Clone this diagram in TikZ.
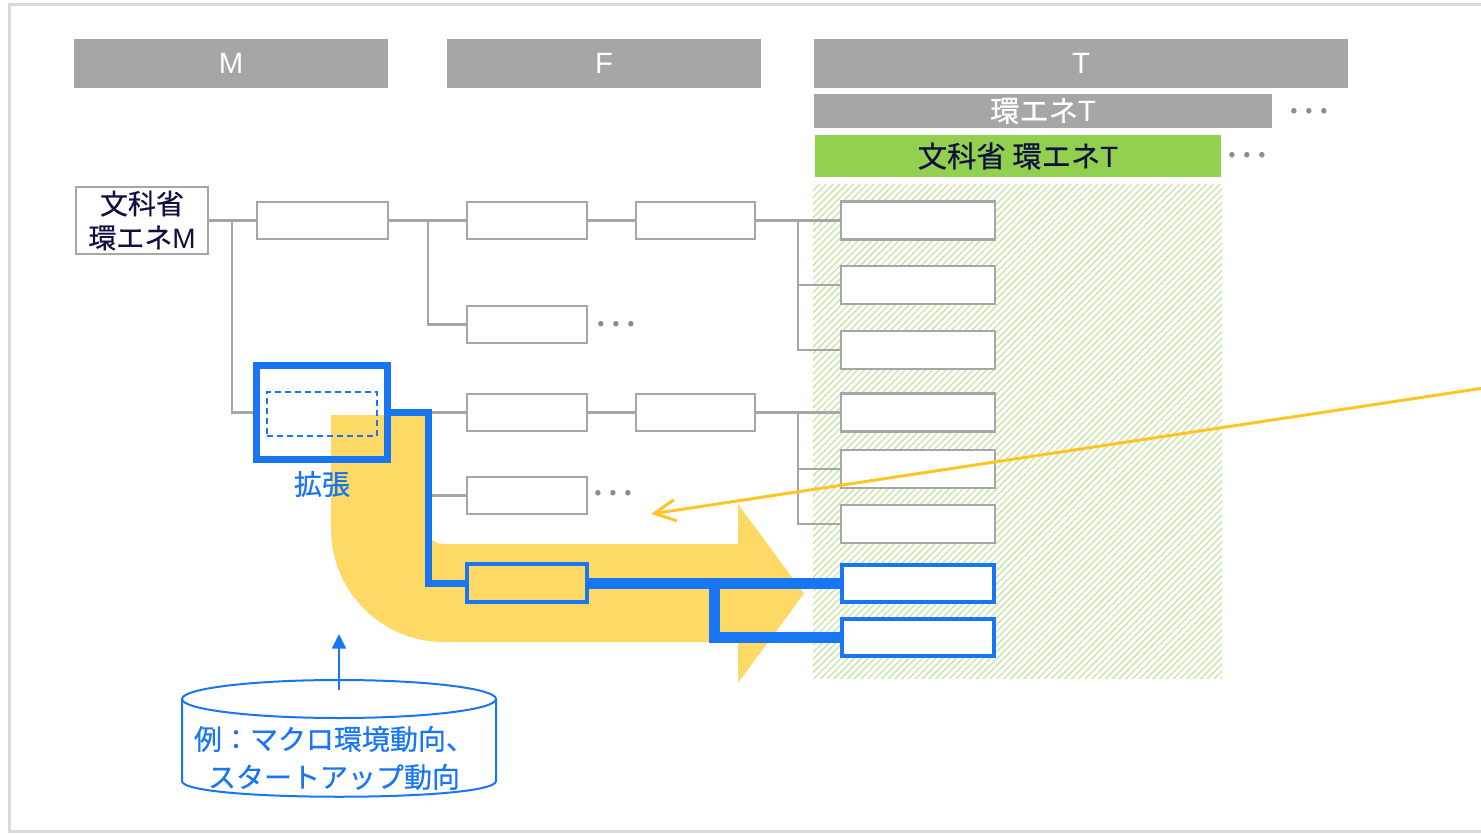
\documentclass[tikz,border=0pt]{standalone}
\usepackage{fontspec}
\setmainfont{Liberation Sans}
\newfontfamily\cjk[FakeBold=0.5]{Noto Sans CJK JP}
\newfontfamily\cjkdots{Noto Sans CJK JP}
\usetikzlibrary{patterns.meta,arrows.meta,backgrounds}
\definecolor{hdrgray}{RGB}{166,166,166}
\definecolor{lgray}{RGB}{166,166,166}
\definecolor{dotgray}{RGB}{140,140,140}
\definecolor{framec}{RGB}{217,217,217}
\definecolor{greenbar}{RGB}{146,208,80}
\definecolor{hatchc}{RGB}{198,228,164}
\definecolor{navy}{RGB}{16,16,64}
\definecolor{bblue}{RGB}{24,118,242}
\definecolor{yel}{RGB}{255,217,102}
\definecolor{yline}{RGB}{255,196,37}
\begin{document}
\begin{tikzpicture}[x=0.75pt,y=-0.75pt,
  hdr/.style={fill=hdrgray, text=white, inner sep=0pt, font=\fontsize{22}{26}\selectfont},
  gbox/.style={draw=lgray, fill=white, line width=2.2pt, inner sep=0pt},
  fbox/.style={gbox, minimum width=90pt, minimum height=27.75pt},
  gbbox/.style={gbox, minimum width=89.25pt, minimum height=27.75pt},
  tbox/.style={gbox, minimum width=115.5pt, minimum height=28.5pt},
  bbox/.style={draw=bblue, fill=white, line width=3pt, inner sep=0pt, minimum width=114pt, minimum height=27.75pt},
  gline/.style={draw=lgray, line width=1.9pt},
  bline/.style={draw=bblue, line width=5.25pt, line join=miter},
  bthick/.style={draw=bblue, line width=8.25pt, line join=miter},
  dots/.style={text=dotgray, inner sep=0pt, font=\cjkdots\fontsize{30}{32}\selectfont},
  jtext/.style={font=\cjk\fontsize{21}{25.5}\selectfont}
]
\useasboundingbox (0,0) rectangle (1481,834);

% frame
\draw[framec, line width=2.25pt] (9,5) rectangle (1530,831);

% headers
\node[hdr, minimum width=235.5pt, minimum height=36.75pt] (hM) at (231,63.5) {M};
\node[hdr, minimum width=235.5pt, minimum height=36.75pt] (hF) at (604,63.5) {F};
\node[hdr, minimum width=400.5pt, minimum height=36.75pt] (hT) at (1081,63.5) {T};
\node[hdr, minimum width=343.5pt, minimum height=25.5pt, font=\fontsize{22}{25}\selectfont] (hT2) at (1043,111) {{\cjk 環エネ}T};
\node[dots] (d1) at (1309,111) {…};
\node[fill=greenbar, text=navy, inner sep=0pt, minimum width=304.5pt, minimum height=31.5pt, font=\fontsize{22}{26}\selectfont] (gT) at (1018,156) {{\cjk 文科省 環エネ}T};
\node[dots] (d2) at (1247,155) {…};

% nodes
\node[gbox, minimum width=99pt, minimum height=50.25pt, text=navy, align=center, font=\fontsize{21}{25.5}\selectfont] (mbox) at (142,220.5) {{\cjk 文科省}\\{\cjk 環エネ}M};
\node[gbox, minimum width=98.25pt, minimum height=27.75pt] (b1) at (322.5,220.5) {};
\node[fbox] (f1) at (527,220.5) {};
\node[fbox] (f2) at (527,324.5) {};
\node[dots] (d3) at (616,324) {…};
\node[gbbox] (g1) at (695.5,220.5) {};

\node[draw=bblue, line width=5.25pt, minimum width=98.25pt, minimum height=70.5pt, inner sep=0pt] (ex) at (322,412.5) {};
\node[draw=bblue, dashed, dash pattern=on 4.5pt off 3pt, line width=1.5pt, minimum width=82.5pt, minimum height=33pt, inner sep=0pt] (exin) at (322,414) {};
\node[jtext, text=bblue] (lbl) at (322,484) {拡張};

\node[fbox] (f3) at (527,412.5) {};
\node[gbbox] (g3) at (695.5,412.5) {};
\node[fbox] (f4) at (527,495.5) {};
\node[dots] (d4) at (613,493) {…};
\node[draw=bblue, line width=3pt, minimum width=90pt, minimum height=28.5pt, inner sep=0pt] (f5) at (527,583) {};

\node[tbox] (t1) at (918,220.5) {};
\node[tbox] (t2) at (918,285) {};
\node[tbox] (t3) at (918,350) {};
\node[tbox] (t4) at (918,412.5) {};
\node[tbox] (t5) at (918,469) {};
\node[tbox] (t6) at (918,524) {};
\node[bbox] (t7) at (918,583) {};
\node[bbox] (t8) at (918,637.5) {};

\coordinate (jm) at (232,220.5);
\coordinate (jb) at (428,220.5);
\coordinate (jg) at (798,220.5);
\coordinate (je) at (428,412.5);
\coordinate (jh) at (798,412.5);
\coordinate (jf) at (714,583);

\begin{pgfonlayer}{background}
  \fill[pattern={Lines[angle=45,distance=3.6pt,line width=1pt]}, pattern color=hatchc] (813,185) rectangle (1222,678);
  \fill[yel] (331,415) -- (428,415) -- (428,529) .. controls (428,537.3) and (434.7,544) .. (443,544)
     -- (738,544) -- (738,504) -- (804,593.5) -- (738,683) -- (738,642) -- (444,642)
     .. controls (381.6,642) and (331,591.4) .. (331,529) -- cycle;
  \draw[gline] (mbox.east) -- (b1.west);
  \draw[gline] (jm) |- (ex.west);
  \draw[gline] (b1.east) -- (f1.west);
  \draw[gline] (jb) |- (f2.west);
  \draw[gline] (f1.east) -- (g1.west);
  \draw[gline] (g1.east) -- (t1.west);
  \draw[gline] (jg) |- (t2.west);
  \draw[gline] (jg) |- (t3.west);
  \draw[gline] (ex.east) -- (f3.west);
  \draw[gline] (je) |- (f4.west);
  \draw[gline] (f3.east) -- (g3.west);
  \draw[gline] (g3.east) -- (t4.west);
  \draw[gline] (jh) |- (t5.west);
  \draw[gline] (jh) |- (t6.west);
  \draw[bline] (ex.east) -- (je) |- (f5.west);
  \draw[bthick] (f5.east) -- (t7.west);
  \draw[bthick] (jf) |- (t8.west);
\end{pgfonlayer}

% cylinder
\draw[bblue, line width=1.5pt] (339,699) ellipse [x radius=157, y radius=19];
\draw[bblue, line width=1.5pt] (182,699) -- (182,781) .. controls (182,802) and (496,802) .. (496,781) -- (496,699);
\node[text=bblue, align=center, font=\cjk\fontsize{21}{28.5}\selectfont] (db) at (334,758) {例：マクロ環境動向、\\スタートアップ動向};
\coordinate (dbtop) at (339,690);
\coordinate (uptip) at (339,634);
\draw[bblue, line width=1.5pt, -{Triangle[length=11pt,width=10.5pt]}] (dbtop) -- (uptip);

% yellow pointer
\coordinate (ystart) at (1530,381);
\coordinate (yend) at (651,514);
\draw[yline, line width=2.25pt, -{Straight Barb[length=16pt,width=16pt]}] (ystart) -- (yend);
\end{tikzpicture}
\end{document}
